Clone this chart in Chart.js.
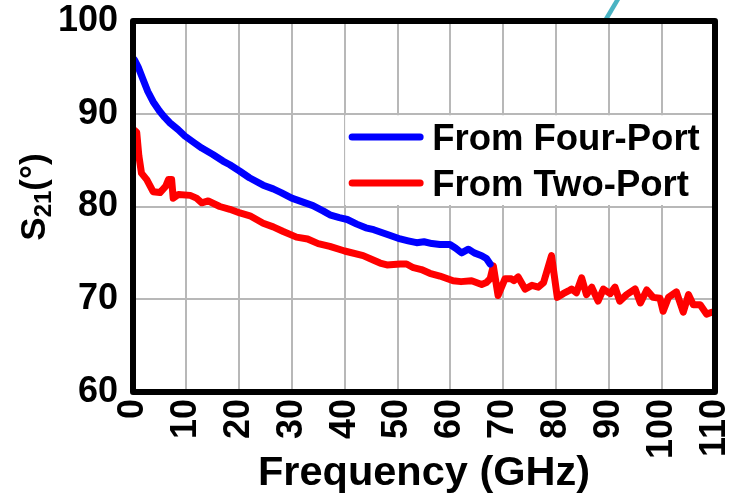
<!DOCTYPE html>
<html><head><meta charset="utf-8">
<script src="https://cdn.jsdelivr.net/npm/chart.js@4/dist/chart.umd.min.js"></script>
<style>html,body{margin:0;padding:0;background:#fff}#wrap{width:733px;height:500px}</style>
</head><body><div id="wrap"><canvas id="c" width="733" height="500"></canvas></div>
<script>
const xTicks = [0,10,20,30,40,50,60,70,80,90,100,110];
const yTicks = [60,70,80,90,100];
const seriesNames = ["From Four-Port","From Two-Port"];
const fourPortFreq = [0.3,1.0,1.9,2.8,3.8,5.0,6.0,7.0,8.5,9.8,11.5,13.0,15.1,17.0,18.3,20.2,22.0,24.6,26.5,28.0,30.0,32.0,34.0,36.0,37.2,39.0,40.5,42.3,44.0,45.5,47.0,48.5,50.5,52.0,53.6,55.0,56.5,58.0,59.9,61.0,62.1,63.4,64.5,65.9,66.8,67.5];
const fourPortPhase = [95.8,95.0,93.7,92.4,91.3,90.3,89.6,89.0,88.3,87.6,86.9,86.3,85.6,84.9,84.5,83.8,83.1,82.3,81.9,81.5,80.9,80.5,80.1,79.5,79.1,78.8,78.6,78.1,77.7,77.5,77.2,76.9,76.5,76.3,76.1,76.2,76.0,75.9,75.9,75.5,75.0,75.4,75.0,74.7,74.4,73.8];
const twoPortFreq = [0.3,0.7,1.1,1.6,2.6,3.8,5.1,6.2,6.7,7.3,7.6,8.6,10.8,12.0,13.0,14.2,16.4,18.3,20.2,22.1,24.6,26.5,28.4,30.9,33.0,35.0,37.2,40.0,43.5,45.5,46.7,48.0,50.5,51.7,53.0,54.5,56.1,58.0,60.5,62.0,64.0,65.9,66.8,67.5,68.1,69.0,70.3,71.5,72.0,72.8,74.1,75.4,76.6,77.6,79.1,80.2,81.3,82.3,82.9,83.8,84.8,85.7,86.7,87.9,88.9,90.2,91.1,92.0,93.3,94.9,95.9,97.1,98.3,99.6,100.2,101.2,102.7,104.0,105.0,105.9,107.2,108.4,109.4,110];
const twoPortPhase = [88.2,88.0,85.5,83.6,82.9,81.6,81.5,82.2,82.9,82.9,80.9,81.3,81.2,80.9,80.4,80.6,80.0,79.7,79.3,79.0,78.2,77.8,77.3,76.7,76.5,76.0,75.7,75.2,74.7,74.2,73.9,73.7,73.8,73.8,73.4,73.2,72.8,72.5,72.0,71.9,72.0,71.6,71.8,72.2,73.6,70.4,72.2,72.2,72.0,72.4,71.1,71.5,71.3,71.8,74.7,70.2,70.6,70.9,71.1,70.7,72.3,70.5,71.3,69.8,71.1,70.6,71.3,69.8,70.5,71.1,69.6,71.0,70.2,70.1,68.7,70.2,70.8,68.6,70.5,69.4,69.4,68.4,68.6,68.5];
const strayFreq = [89.2,91.8];
const strayPhase = [100.0,102.5];

const pts = (xs, ys) => xs.map((x,i)=>({x:x,y:ys[i]}));
const FONT = "'Liberation Sans', Arial, sans-serif";

const framePlugin = {
  id:'frame',
  beforeDatasetsDraw(chart){
    const {ctx, chartArea:a, scales:{x,y}} = chart;
    const bx = x.getPixelForValue(40)+0.5, by = y.getPixelForValue(90)+1.5, bb = y.getPixelForValue(80)-1.5;
    ctx.save();
    ctx.fillStyle='#fff';
    ctx.fillRect(bx, by, a.right-bx, bb-by);
    const items = [[seriesNames[0],'#0000ff',137],[seriesNames[1],'#ff0000',183]];
    ctx.lineWidth=7; ctx.lineCap='round';
    ctx.font = "bold 36.5px "+FONT; ctx.textBaseline='alphabetic'; ctx.fillStyle='#000';
    items.forEach(([t,c,yy])=>{
      ctx.strokeStyle=c; ctx.beginPath(); ctx.moveTo(bx+7,yy); ctx.lineTo(bx+75,yy); ctx.stroke();
      ctx.fillText(t, bx+87, yy+13);
    });
    ctx.restore();
  },
  afterDatasetsDraw(chart){
    const {ctx, chartArea:a} = chart;
    ctx.save();
    ctx.strokeStyle='#000'; ctx.lineWidth=6; ctx.lineJoin='round';
    ctx.strokeRect(a.left, a.top, a.right-a.left, a.bottom-a.top);
    ctx.translate(45, 197);
    ctx.rotate(-Math.PI/2);
    ctx.fillStyle='#000'; ctx.textBaseline='alphabetic';
    const big = "bold 35px "+FONT, small = "bold 24px "+FONT;
    ctx.font=big; const wS=ctx.measureText('S').width;
    ctx.font=small; const w21=ctx.measureText('21').width;
    ctx.font=big; const wP=ctx.measureText('(°)').width;
    let x0 = -(wS+w21+wP)/2;
    ctx.font=big; ctx.fillText('S', x0, 0); x0+=wS;
    ctx.font=small; ctx.fillText('21', x0, 6); x0+=w21;
    ctx.font=big; ctx.fillText('(°)', x0, 0);
    ctx.restore();
  }
};

new Chart(document.getElementById('c'), {
  type:'line',
  data:{datasets:[
    {label:seriesNames[0], data:pts(fourPortFreq,fourPortPhase), borderColor:'#0000ff', borderWidth:7, pointRadius:0, tension:0, borderJoinStyle:'round', borderCapStyle:'round'},
    {label:seriesNames[1], data:pts(twoPortFreq,twoPortPhase), borderColor:'#ff0000', borderWidth:7, pointRadius:0, tension:0, borderJoinStyle:'round', borderCapStyle:'round'},
    {label:'stray', data:pts(strayFreq,strayPhase), borderColor:'#4ab3c3', borderWidth:4.5, pointRadius:0, clip:false}
  ]},
  options:{
    responsive:false, animation:false, devicePixelRatio:1,
    layout:{padding:{top:21,right:18,bottom:0,left:0}},
    plugins:{legend:{display:false}, tooltip:{enabled:false}},
    scales:{
      x:{type:'linear', min:0, max:110,
        afterBuildTicks(s){ s.ticks = xTicks.map(v=>({value:v})); },
        afterFit(s){ s.height = 108; s.paddingLeft=0; s.paddingRight=0; s.paddingTop=0; s.paddingBottom=0; },
        grid:{color:'#b8b8b8', lineWidth:2, drawTicks:false},
        border:{display:false},
        ticks:{autoSkip:false, maxRotation:90, minRotation:90, padding:7, color:'#000', font:{family:FONT, weight:'bold', size:36}},
        title:{display:true, text:'Frequency (GHz)', color:'#000', font:{family:FONT, weight:'bold', size:41.5}, padding:{top:0,bottom:2}}
      },
      y:{type:'linear', min:60, max:100,
        afterBuildTicks(s){ s.ticks = yTicks.map(v=>({value:v})); },
        afterFit(s){ s.width = 133; s.paddingLeft=0; s.paddingRight=0; s.paddingTop=0; s.paddingBottom=0; },
        grid:{color:'#b8b8b8', lineWidth:2, drawTicks:false},
        border:{display:false},
        ticks:{padding:15, color:'#000', font:{family:FONT, weight:'bold', size:36}}
      }
    }
  },
  plugins:[framePlugin]
});
</script></body></html>
